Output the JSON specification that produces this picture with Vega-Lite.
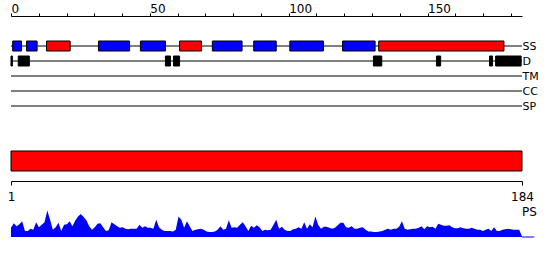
{
  "$schema": "https://vega.github.io/schema/vega-lite/v6.json",
  "background": "white",
  "padding": {"left": 7, "top": 2, "right": 5, "bottom": 5},
  "config": {
    "view": {"stroke": null},
    "font": "DejaVu Sans",
    "axis": {"labelFont": "DejaVu Sans", "labelColor": "black", "domainColor": "black", "tickColor": "black", "grid": false, "domainWidth": 1, "tickWidth": 1}
  },
  "datasets": {
    "tracks": [
      {"track": "SS", "start": 0, "end": 184},
      {"track": "D", "start": 0, "end": 184},
      {"track": "TM", "start": 0, "end": 184},
      {"track": "CC", "start": 0, "end": 184},
      {"track": "SP", "start": 0, "end": 184}
    ],
    "ss": [
      {"track": "SS", "type": "E", "start": 0.6, "end": 3.8},
      {"track": "SS", "type": "E", "start": 5.6, "end": 9.4},
      {"track": "SS", "type": "H", "start": 12.8, "end": 21.3},
      {"track": "SS", "type": "E", "start": 31.5, "end": 42.7},
      {"track": "SS", "type": "E", "start": 46.6, "end": 55.6},
      {"track": "SS", "type": "H", "start": 60.7, "end": 68.6},
      {"track": "SS", "type": "E", "start": 72.5, "end": 83.2},
      {"track": "SS", "type": "E", "start": 87.4, "end": 95.5},
      {"track": "SS", "type": "E", "start": 100.4, "end": 112.5},
      {"track": "SS", "type": "E", "start": 119.4, "end": 131.1},
      {"track": "SS", "type": "H", "start": 132.4, "end": 177.5}
    ],
    "dis": [
      {"track": "D", "start": 0, "end": 0.5},
      {"track": "D", "start": 2.6, "end": 6.6},
      {"track": "D", "start": 55.6, "end": 57.4},
      {"track": "D", "start": 58.5, "end": 60.7},
      {"track": "D", "start": 130.5, "end": 133.5},
      {"track": "D", "start": 153.2, "end": 154.7},
      {"track": "D", "start": 172.3, "end": 173.4},
      {"track": "D", "start": 174.5, "end": 183.7}
    ],
    "profile": [
      {"res": 1, "v": 0.18}, {"res": 2, "v": 0.27}, {"res": 3, "v": 0.21}, {"res": 4, "v": 0.25}, {"res": 5, "v": 0.31},
      {"res": 6, "v": 0.12}, {"res": 7, "v": 0.12}, {"res": 8, "v": 0.16}, {"res": 9, "v": 0.14}, {"res": 10, "v": 0.29},
      {"res": 11, "v": 0.19}, {"res": 12, "v": 0.24}, {"res": 13, "v": 0.29}, {"res": 14, "v": 0.52}, {"res": 15, "v": 0.34},
      {"res": 16, "v": 0.14}, {"res": 17, "v": 0.19}, {"res": 18, "v": 0.28}, {"res": 19, "v": 0.12}, {"res": 20, "v": 0.24},
      {"res": 21, "v": 0.25}, {"res": 22, "v": 0.31}, {"res": 23, "v": 0.21}, {"res": 24, "v": 0.32}, {"res": 25, "v": 0.4},
      {"res": 26, "v": 0.45}, {"res": 27, "v": 0.39}, {"res": 28, "v": 0.33}, {"res": 29, "v": 0.21}, {"res": 30, "v": 0.14},
      {"res": 31, "v": 0.19}, {"res": 32, "v": 0.26}, {"res": 33, "v": 0.27}, {"res": 34, "v": 0.19}, {"res": 35, "v": 0.12},
      {"res": 36, "v": 0.13}, {"res": 37, "v": 0.29}, {"res": 38, "v": 0.25}, {"res": 39, "v": 0.21}, {"res": 40, "v": 0.18},
      {"res": 41, "v": 0.19}, {"res": 42, "v": 0.16}, {"res": 43, "v": 0.15}, {"res": 44, "v": 0.16}, {"res": 45, "v": 0.16},
      {"res": 46, "v": 0.16}, {"res": 47, "v": 0.24}, {"res": 48, "v": 0.18}, {"res": 49, "v": 0.21}, {"res": 50, "v": 0.18},
      {"res": 51, "v": 0.18}, {"res": 52, "v": 0.16}, {"res": 53, "v": 0.34}, {"res": 54, "v": 0.19}, {"res": 55, "v": 0.14},
      {"res": 56, "v": 0.12}, {"res": 57, "v": 0.12}, {"res": 58, "v": 0.12}, {"res": 59, "v": 0.11}, {"res": 60, "v": 0.14},
      {"res": 61, "v": 0.4}, {"res": 62, "v": 0.34}, {"res": 63, "v": 0.18}, {"res": 64, "v": 0.31}, {"res": 65, "v": 0.21},
      {"res": 66, "v": 0.12}, {"res": 67, "v": 0.14}, {"res": 68, "v": 0.15}, {"res": 69, "v": 0.16}, {"res": 70, "v": 0.14},
      {"res": 71, "v": 0.11}, {"res": 72, "v": 0.1}, {"res": 73, "v": 0.1}, {"res": 74, "v": 0.11}, {"res": 75, "v": 0.14},
      {"res": 76, "v": 0.21}, {"res": 77, "v": 0.14}, {"res": 78, "v": 0.16}, {"res": 79, "v": 0.33}, {"res": 80, "v": 0.18},
      {"res": 81, "v": 0.19}, {"res": 82, "v": 0.18}, {"res": 83, "v": 0.24}, {"res": 84, "v": 0.29}, {"res": 85, "v": 0.21},
      {"res": 86, "v": 0.12}, {"res": 87, "v": 0.22}, {"res": 88, "v": 0.18}, {"res": 89, "v": 0.23}, {"res": 90, "v": 0.19},
      {"res": 91, "v": 0.12}, {"res": 92, "v": 0.14}, {"res": 93, "v": 0.13}, {"res": 94, "v": 0.14}, {"res": 95, "v": 0.24},
      {"res": 96, "v": 0.34}, {"res": 97, "v": 0.16}, {"res": 98, "v": 0.2}, {"res": 99, "v": 0.14}, {"res": 100, "v": 0.12},
      {"res": 101, "v": 0.12}, {"res": 102, "v": 0.15}, {"res": 103, "v": 0.16}, {"res": 104, "v": 0.19}, {"res": 105, "v": 0.16},
      {"res": 106, "v": 0.29}, {"res": 107, "v": 0.16}, {"res": 108, "v": 0.25}, {"res": 109, "v": 0.19}, {"res": 110, "v": 0.4},
      {"res": 111, "v": 0.24}, {"res": 112, "v": 0.16}, {"res": 113, "v": 0.2}, {"res": 114, "v": 0.2}, {"res": 115, "v": 0.18},
      {"res": 116, "v": 0.16}, {"res": 117, "v": 0.18}, {"res": 118, "v": 0.23}, {"res": 119, "v": 0.28}, {"res": 120, "v": 0.28},
      {"res": 121, "v": 0.19}, {"res": 122, "v": 0.18}, {"res": 123, "v": 0.21}, {"res": 124, "v": 0.16}, {"res": 125, "v": 0.16},
      {"res": 126, "v": 0.18}, {"res": 127, "v": 0.19}, {"res": 128, "v": 0.14}, {"res": 129, "v": 0.11}, {"res": 130, "v": 0.11},
      {"res": 131, "v": 0.1}, {"res": 132, "v": 0.1}, {"res": 133, "v": 0.11}, {"res": 134, "v": 0.12}, {"res": 135, "v": 0.14},
      {"res": 136, "v": 0.16}, {"res": 137, "v": 0.14}, {"res": 138, "v": 0.16}, {"res": 139, "v": 0.16}, {"res": 140, "v": 0.2},
      {"res": 141, "v": 0.31}, {"res": 142, "v": 0.16}, {"res": 143, "v": 0.14}, {"res": 144, "v": 0.15}, {"res": 145, "v": 0.16},
      {"res": 146, "v": 0.16}, {"res": 147, "v": 0.18}, {"res": 148, "v": 0.21}, {"res": 149, "v": 0.15}, {"res": 150, "v": 0.21},
      {"res": 151, "v": 0.19}, {"res": 152, "v": 0.2}, {"res": 153, "v": 0.16}, {"res": 154, "v": 0.26}, {"res": 155, "v": 0.24},
      {"res": 156, "v": 0.22}, {"res": 157, "v": 0.22}, {"res": 158, "v": 0.23}, {"res": 159, "v": 0.19}, {"res": 160, "v": 0.17},
      {"res": 161, "v": 0.17}, {"res": 162, "v": 0.19}, {"res": 163, "v": 0.17}, {"res": 164, "v": 0.16}, {"res": 165, "v": 0.16},
      {"res": 166, "v": 0.18}, {"res": 167, "v": 0.16}, {"res": 168, "v": 0.14}, {"res": 169, "v": 0.14}, {"res": 170, "v": 0.12},
      {"res": 171, "v": 0.14}, {"res": 172, "v": 0.16}, {"res": 173, "v": 0.12}, {"res": 174, "v": 0.19}, {"res": 175, "v": 0.12},
      {"res": 176, "v": 0.12}, {"res": 177, "v": 0.14}, {"res": 178, "v": 0.15}, {"res": 179, "v": 0.16}, {"res": 180, "v": 0.15},
      {"res": 181, "v": 0.14}, {"res": 182, "v": 0.14}, {"res": 183, "v": 0.14}, {"res": 184, "v": 0.01}
    ]
  },
  "spacing": 5,
  "bounds": "flush",
  "resolve": {"scale": {"x": "independent"}},
  "vconcat": [
    {
      "width": 511,
      "height": 90,
      "encoding": {
        "x": {
          "field": "start", "type": "quantitative",
          "scale": {"domain": [0, 184], "nice": false, "zero": false},
          "axis": {
            "orient": "top", "title": null, "offset": 15,
            "values": [0, 10, 20, 30, 40, 50, 60, 70, 80, 90, 100, 110, 120, 130, 140, 150, 160, 170, 180],
            "labelExpr": "datum.value % 50 === 0 ? datum.label : ''",
            "labelAlign": "left", "labelBaseline": "alphabetic",
            "tickSize": 3, "labelPadding": 1, "labelFontSize": 12,
            "labelOverlap": false, "labelFlush": false, "labelBound": false
          }
        },
        "x2": {"field": "end"},
        "y": {
          "field": "track", "type": "nominal",
          "scale": {"type": "point", "domain": ["SS", "D", "TM", "CC", "SP"], "padding": 1},
          "axis": {
            "orient": "right", "title": null, "domain": false, "ticks": false,
            "labelPadding": 0, "labelFontSize": 11, "labelBaseline": "middle"
          }
        }
      },
      "layer": [
        {
          "data": {"name": "tracks"},
          "mark": {"type": "rule", "color": "black", "strokeWidth": 1}
        },
        {
          "data": {"name": "ss"},
          "mark": {"type": "bar", "stroke": "black", "strokeWidth": 1, "size": 10},
          "encoding": {
            "color": {
              "field": "type", "type": "nominal",
              "scale": {"domain": ["H", "E"], "range": ["#ff0000", "#0000ff"]},
              "legend": null
            }
          }
        },
        {
          "data": {"name": "dis"},
          "mark": {"type": "bar", "fill": "black", "stroke": "black", "strokeWidth": 1, "size": 10}
        }
      ]
    },
    {
      "width": 511,
      "height": 55,
      "data": {"values": [{"name": "PS", "start": 1, "end": 184}]},
      "mark": {"type": "bar", "fill": "#ff0000", "stroke": "black", "strokeWidth": 1},
      "encoding": {
        "x": {
          "field": "start", "type": "quantitative",
          "scale": {"domain": [1, 184], "nice": false, "zero": false},
          "axis": {
            "orient": "bottom", "title": null, "values": [1, 184],
            "tickSize": 4, "labelPadding": 15, "labelBaseline": "alphabetic",
            "labelFontSize": 12, "labelFlush": false, "labelOverlap": false, "labelBound": false
          }
        },
        "x2": {"field": "end"},
        "y": {
          "field": "name", "type": "nominal",
          "scale": {"type": "band", "paddingInner": 0, "paddingOuter": 0.875, "align": 0.714},
          "axis": null
        }
      }
    },
    {
      "width": 511,
      "height": 51,
      "layer": [
        {
          "data": {"name": "profile"},
          "mark": {"type": "area", "color": "#0000ff", "interpolate": "linear"},
          "encoding": {
            "x": {
              "field": "res", "type": "quantitative",
              "scale": {"domain": [1, 184], "nice": false, "zero": false},
              "axis": null
            },
            "y": {
              "field": "v", "type": "quantitative",
              "scale": {"domain": [0, 1], "nice": false},
              "axis": null
            }
          }
        },
        {
          "data": {"values": [{"from": 184, "to": 188.4, "v": 0}]},
          "mark": {"type": "rule", "color": "#0000ff", "strokeWidth": 1},
          "encoding": {
            "x": {"field": "from", "type": "quantitative"},
            "x2": {"field": "to"},
            "y": {"field": "v", "type": "quantitative"}
          }
        },
        {
          "data": {"values": [{"label": "PS", "pos": 184, "v": 0.5}]},
          "mark": {"type": "text", "align": "left", "baseline": "middle", "fontSize": 12, "font": "DejaVu Sans", "color": "black"},
          "encoding": {
            "x": {"field": "pos", "type": "quantitative"},
            "y": {"field": "v", "type": "quantitative"},
            "text": {"field": "label"}
          }
        }
      ]
    }
  ]
}
